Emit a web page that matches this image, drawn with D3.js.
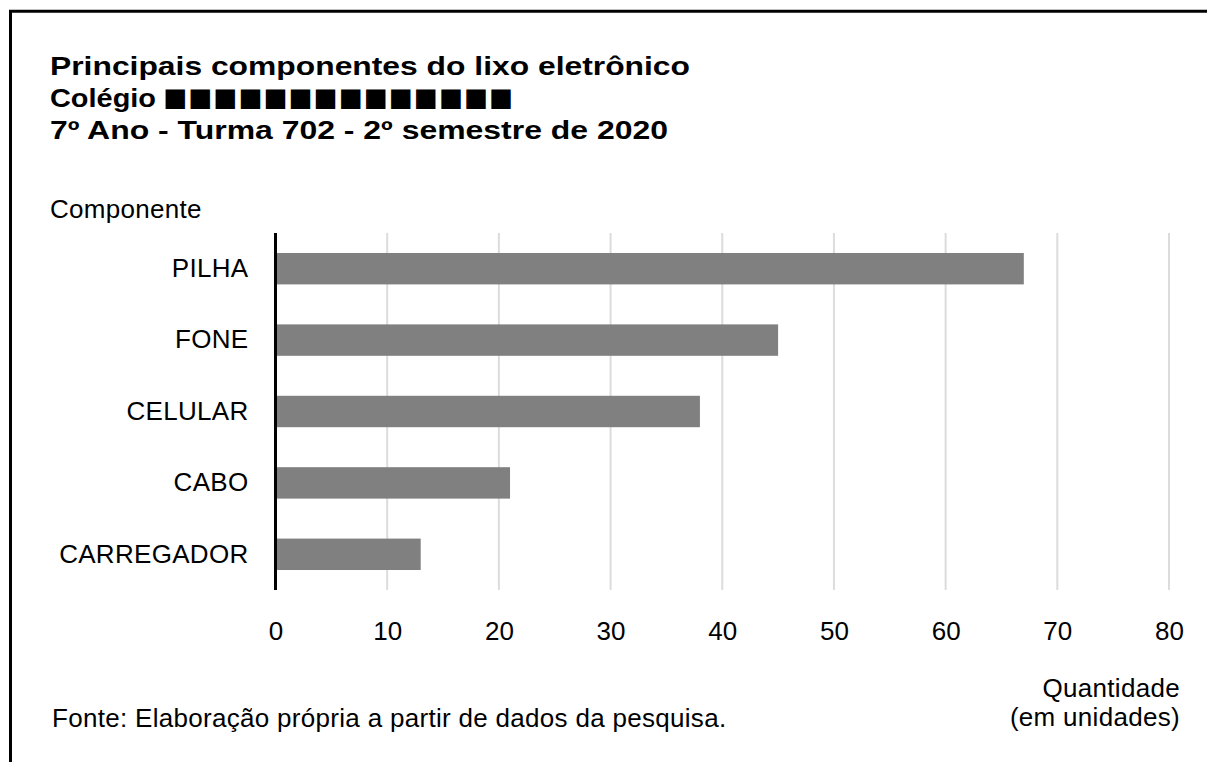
<!DOCTYPE html>
<html>
<head>
<meta charset="utf-8">
<script src="https://cdn.jsdelivr.net/npm/d3@7"></script>
<style>
  body { margin: 0; background: #fff; }
  svg { display: block; }
  text { font-family: "Liberation Sans", Arial, sans-serif; fill: #000; }
</style>
</head>
<body>
<svg id="chart" width="1207" height="762"></svg>
<script>
const categories = ["PILHA", "FONE", "CELULAR", "CABO", "CARREGADOR"];
const values = [67, 45, 38, 21, 13];
const xTicks = [0, 10, 20, 30, 40, 50, 60, 70, 80];
const titleLine1 = "Principais componentes do lixo eletrônico";
const titleLine2 = "Colégio";
const titleMask = "■■■■■■■■■■■■■■";
const titleLine3 = "7º Ano - Turma 702 - 2º semestre de 2020";
const yAxisTitle = "Componente";
const xAxisTitle = ["Quantidade", "(em unidades)"];
const sourceNote = "Fonte: Elaboração própria a partir de dados da pesquisa.";

const svg = d3.select("#chart");
const W = 1207, H = 762;
const FS = 26;

svg.append("rect").attr("width", W).attr("height", H).attr("fill", "#fff");

// frame (top and left lines)
svg.append("line").attr("x1", 9).attr("x2", W).attr("y1", 11.3).attr("y2", 11.3)
  .attr("stroke", "#000").attr("stroke-width", 3);
svg.append("line").attr("x1", 10.5).attr("x2", 10.5).attr("y1", 10).attr("y2", H)
  .attr("stroke", "#000").attr("stroke-width", 3);

const plot = { left: 275.5, right: 1169, top: 233, bottom: 590 };

const x = d3.scaleLinear().domain([0, 80]).range([plot.left, plot.right]);
const y = d3.scaleBand().domain(categories).range([plot.top, plot.bottom])
  .paddingInner(0.56).paddingOuter(0.28);

// gridlines
svg.append("g").selectAll("line").data(xTicks.filter(d => d > 0)).join("line")
  .attr("x1", d => x(d)).attr("x2", d => x(d))
  .attr("y1", plot.top).attr("y2", plot.bottom)
  .attr("stroke", "#dcdcdc").attr("stroke-width", 2);

// bars
svg.append("g").selectAll("rect").data(categories).join("rect")
  .attr("x", x(0))
  .attr("y", d => y(d))
  .attr("width", (d, i) => x(values[i]) - x(0))
  .attr("height", y.bandwidth())
  .attr("fill", "#808080");

// y axis line
svg.append("line").attr("x1", x(0)).attr("x2", x(0))
  .attr("y1", plot.top).attr("y2", plot.bottom)
  .attr("stroke", "#000").attr("stroke-width", 3);

// y axis labels
const yAxis = d3.axisLeft(y).tickSize(0).tickPadding(27);
const gy = svg.append("g").attr("transform", `translate(${x(0)},0)`).call(yAxis);
gy.select(".domain").remove();
gy.selectAll("text").attr("font-size", FS).attr("letter-spacing", 0.3)
  .attr("font-family", "Liberation Sans, Arial, sans-serif").attr("fill", "#000");

// x axis labels
const xAxis = d3.axisBottom(x).tickValues(xTicks).tickSize(0).tickPadding(31.5);
const gx = svg.append("g").attr("transform", `translate(0,${plot.bottom})`).call(xAxis);
gx.select(".domain").remove();
gx.selectAll("text").attr("font-size", FS)
  .attr("font-family", "Liberation Sans, Arial, sans-serif").attr("fill", "#000");

// titles
const tx = 50;
svg.append("text").attr("x", tx).attr("y", 75).attr("font-size", 26).attr("font-weight", "bold")
  .attr("textLength", 640).attr("lengthAdjust", "spacingAndGlyphs").text(titleLine1);
svg.append("text").attr("x", tx).attr("y", 107).attr("font-size", 26).attr("font-weight", "bold")
  .attr("textLength", 106).attr("lengthAdjust", "spacingAndGlyphs").text(titleLine2);
svg.append("text").attr("x", 163).attr("y", 111).attr("font-size", 40).attr("letter-spacing", 0.9)
  .attr("font-family", "DejaVu Sans, sans-serif").text(titleMask);
svg.append("text").attr("x", tx).attr("y", 139).attr("font-size", 26).attr("font-weight", "bold")
  .attr("textLength", 618).attr("lengthAdjust", "spacingAndGlyphs").text(titleLine3);

svg.append("text").attr("x", tx).attr("y", 218).attr("font-size", FS).attr("letter-spacing", 0.3).text(yAxisTitle);

svg.append("g").selectAll("text").data(xAxisTitle).join("text")
  .attr("x", 1180).attr("y", (d, i) => 697 + i * 29)
  .attr("text-anchor", "end").attr("font-size", FS).attr("letter-spacing", 0.3)
  .text(d => d);

svg.append("text").attr("x", 52).attr("y", 727).attr("font-size", FS).attr("letter-spacing", 0.3).text(sourceNote);
</script>
</body>
</html>
